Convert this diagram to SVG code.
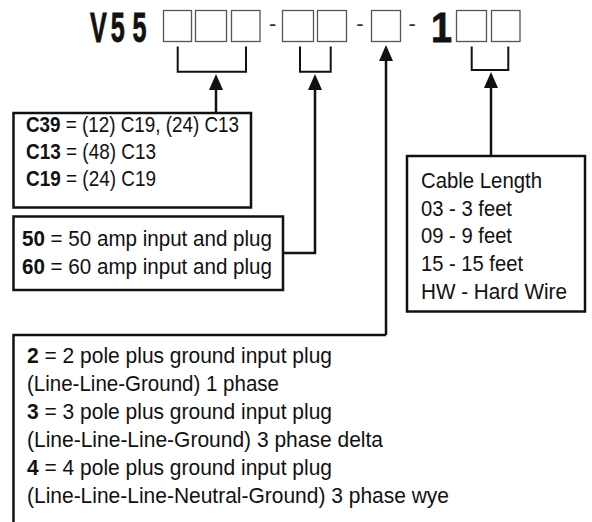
<svg xmlns="http://www.w3.org/2000/svg" width="592" height="522" viewBox="0 0 592 522">
<style>
.t{font-family:"Liberation Sans",Arial,sans-serif;font-size:22px;fill:#111}
.b{font-weight:bold}
.hd{font-family:"Liberation Sans",Arial,sans-serif;font-weight:bold;font-size:42px;fill:#111;stroke:#111;stroke-width:0.8}
.dash{font-family:"Liberation Sans",Arial,sans-serif;font-size:22px;fill:#333}
.box{fill:#fff;stroke:#111;stroke-width:2.5}
.slot{fill:#fff;stroke:#555;stroke-width:1.3}
.br{fill:none;stroke:#111;stroke-width:2}
.con{fill:none;stroke:#111;stroke-width:2.5;marker-end:url(#ah)}
</style>
<defs>
<marker id="ah" viewBox="0 0 16 14" refX="8" refY="7" markerWidth="16" markerHeight="14" markerUnits="userSpaceOnUse" orient="auto">
<path d="M0,0 L16,7 L0,14 z" fill="#111"/>
</marker>
</defs>
<rect width="592" height="522" fill="#fff"/>

<g id="code">
<text class="hd" transform="translate(90 42) scale(0.6 1)" x="0 34.8 70.9" y="0">V55</text>
<rect class="slot" x="163.5" y="10.5" width="28" height="31"/>
<rect class="slot" x="195.5" y="10.5" width="31" height="31"/>
<rect class="slot" x="231.5" y="10.5" width="28.5" height="31"/>
<text class="dash" x="269" y="31">-</text>
<rect class="slot" x="282.5" y="10.5" width="31" height="31"/>
<rect class="slot" x="317.5" y="10.5" width="29" height="31"/>
<text class="dash" x="356.3" y="31">-</text>
<rect class="slot" x="371.5" y="10.5" width="29" height="31"/>
<text class="dash" x="408.5" y="31">-</text>
<text class="hd" x="431" y="42" textLength="21" lengthAdjust="spacingAndGlyphs">1</text>
<rect class="slot" x="456.5" y="10.5" width="30" height="31"/>
<rect class="slot" x="491.5" y="10.5" width="28.5" height="31"/>
</g>

<g id="connectors">
<path class="br" d="M177.7,46.5 V71.7 H246 V46.5"/>
<path class="br" d="M300,46.5 V71.7 H330.7 V46.5"/>
<path class="br" d="M471.7,46.5 V70 H508.3 V46.5"/>
<path class="con" d="M216,113 V82"/>
<path class="con" d="M283,253 H315 V82"/>
<path class="con" d="M386,335 V53"/>
<path class="con" d="M491,156 V80"/>
</g>

<g id="node-c39">
<rect class="box" x="13.5" y="113" width="237.5" height="94.5"/>
<text class="t b" x="26" y="132" textLength="34.5" lengthAdjust="spacingAndGlyphs">C39</text>
<text class="t" x="65.7" y="132" textLength="173.3" lengthAdjust="spacingAndGlyphs">= (12) C19, (24) C13</text>
<text class="t b" x="26" y="159" textLength="34.7" lengthAdjust="spacingAndGlyphs">C13</text>
<text class="t" x="66" y="159" textLength="90" lengthAdjust="spacingAndGlyphs">= (48) C13</text>
<text class="t b" x="26" y="186" textLength="34.7" lengthAdjust="spacingAndGlyphs">C19</text>
<text class="t" x="66" y="186" textLength="90" lengthAdjust="spacingAndGlyphs">= (24) C19</text>
</g>

<g id="node-amp">
<rect class="box" x="13.5" y="216.5" width="269.5" height="73.5"/>
<text class="t b" x="22" y="246" textLength="22.9" lengthAdjust="spacingAndGlyphs">50</text>
<text class="t" x="50.6" y="246" textLength="221.4" lengthAdjust="spacingAndGlyphs">= 50 amp input and plug</text>
<text class="t b" x="22" y="274" textLength="22.9" lengthAdjust="spacingAndGlyphs">60</text>
<text class="t" x="50.6" y="274" textLength="221.4" lengthAdjust="spacingAndGlyphs">= 60 amp input and plug</text>
</g>

<g id="node-cable">
<rect class="box" x="407" y="156" width="178" height="155.5"/>
<text class="t" x="421" y="188" textLength="121" lengthAdjust="spacingAndGlyphs">Cable Length</text>
<text class="t" x="421" y="216" textLength="91" lengthAdjust="spacingAndGlyphs">03 - 3 feet</text>
<text class="t" x="421" y="243" textLength="91" lengthAdjust="spacingAndGlyphs">09 - 9 feet</text>
<text class="t" x="421" y="271" textLength="102" lengthAdjust="spacingAndGlyphs">15 - 15 feet</text>
<text class="t" x="421" y="299" textLength="146" lengthAdjust="spacingAndGlyphs">HW - Hard Wire</text>
</g>

<g id="node-phase">
<path class="box" fill="none" d="M386,335 H13.5 V524"/>
<text class="t b" x="27" y="363" textLength="11.7" lengthAdjust="spacingAndGlyphs">2</text>
<text class="t" x="44.5" y="363" textLength="287.5" lengthAdjust="spacingAndGlyphs">= 2 pole plus ground input plug</text>
<text class="t" x="27" y="391" textLength="252" lengthAdjust="spacingAndGlyphs">(Line-Line-Ground) 1 phase</text>
<text class="t b" x="27" y="419" textLength="11.7" lengthAdjust="spacingAndGlyphs">3</text>
<text class="t" x="44.5" y="419" textLength="287.5" lengthAdjust="spacingAndGlyphs">= 3 pole plus ground input plug</text>
<text class="t" x="27" y="447" textLength="356" lengthAdjust="spacingAndGlyphs">(Line-Line-Line-Ground) 3 phase delta</text>
<text class="t b" x="27" y="475" textLength="11.7" lengthAdjust="spacingAndGlyphs">4</text>
<text class="t" x="44.5" y="475" textLength="287.5" lengthAdjust="spacingAndGlyphs">= 4 pole plus ground input plug</text>
<text class="t" x="27" y="503" textLength="422" lengthAdjust="spacingAndGlyphs">(Line-Line-Line-Neutral-Ground) 3 phase wye</text>
</g>
</svg>
